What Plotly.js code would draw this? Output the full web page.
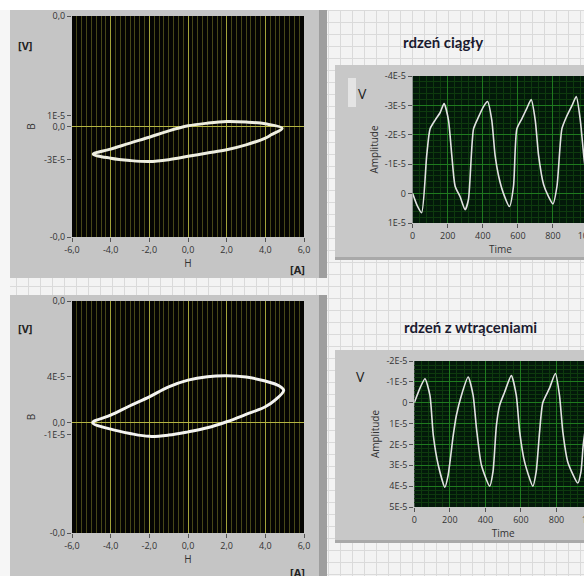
<!DOCTYPE html>
<html><head><meta charset="utf-8">
<script src="https://cdn.plot.ly/plotly-3.0.1.min.js"></script>
<style>
html,body{margin:0;padding:0;width:584px;height:576px;overflow:hidden;
background-color:#f3f3f3;
background-image:linear-gradient(#dadada 1px,transparent 1px),linear-gradient(90deg,#dadada 1px,transparent 1px);
background-size:12px 12px;background-position:4px 10px;}
#chart{width:620px;height:576px;}
</style></head><body><div id="chart"></div>
<script>
// ---------- DATA ----------
const hTickVals = [-6,-4,-2,0,2,4,6];
const hTickText = ['-6,0','-4,0','-2,0','0,0','2,0','4,0','6,0'];

// Hysteresis loop - continuous core (rdzeń ciągły)
const loopContH = [-4.9,-4,-3,-2,-1,0,1,2,3,4,4.87,4.3,4,3,2,1,0,-1,-2,-3,-4,-4.9];
const loopContB = [-2.5e-5,-2.05e-5,-1.5e-5,-0.97e-5,-0.4e-5,0.06e-5,0.3e-5,0.45e-5,0.4e-5,0.24e-5,-0.15e-5,
                   -0.75e-5,-1.05e-5,-1.66e-5,-2.1e-5,-2.4e-5,-2.7e-5,-3.0e-5,-3.17e-5,-3.08e-5,-2.87e-5,-2.5e-5];
const bContTickVals = [-1e-4,-3e-5,0,1e-5,1e-4];
const bContTickText = ['-0,0','-3E-5','0,0','1E-5','0,0'];

// Hysteresis loop - core with inclusions (rdzeń z wtrąceniami)
const loopInclH = [-4.93,-4,-3,-2,-1,0,1,2,3,4,4.7,4.95,4.5,4,3,2,1,0,-1,-2,-3,-4,-4.93];
const loopInclB = [0,0.66e-5,1.47e-5,2.24e-5,3.1e-5,3.68e-5,3.97e-5,4.05e-5,3.94e-5,3.6e-5,3.2e-5,2.8e-5,
                   1.95e-5,1.38e-5,0.72e-5,0.09e-5,-0.43e-5,-0.78e-5,-1.06e-5,-1.17e-5,-0.92e-5,-0.55e-5,0];
const bInclTickVals = [-0.95e-4,-1e-5,0,4e-5,1.05e-4];
const bInclTickText = ['-0,0','-1E-5','0,0','4E-5','0,0'];

// Waveform - continuous core
const timeCont = [0,25,51,80,99,128,156,179,204,223,242,270,299,318,347,375,404,427,451,470,490,518,552,575,594,623,651,676,699,718,747,775,800,823,851,880,909,933,956,979,995];
const ampCont  = [0,0.4e-5,0.65e-5,-1.3e-5,-2.2e-5,-2.5e-5,-2.75e-5,-3.06e-5,-2.5e-5,-1.3e-5,-0.25e-5,0.1e-5,0.55e-5,0.2e-5,
                  -2.2e-5,-2.6e-5,-2.96e-5,-3.13e-5,-2.5e-5,-1.3e-5,-0.6e-5,0,0.44e-5,-0.25e-5,-2.2e-5,-2.55e-5,-2.9e-5,-3.2e-5,
                  -2.5e-5,-1.3e-5,-0.3e-5,0.1e-5,0.35e-5,-0.25e-5,-2.2e-5,-2.65e-5,-3.0e-5,-3.3e-5,-2.5e-5,-1.1e-5,-0.5e-5];
const ampContTickVals = [-4e-5,-3e-5,-2e-5,-1e-5,0,1e-5];
const ampContTickText = ['-4E-5','-3E-5','-2E-5','-1E-5','0','1E-5'];

// Waveform - core with inclusions
const timeIncl = [0,32,60,88,107,135,172,190,219,237,265,303,331,350,378,424,443,462,480,508,546,574,593,621,667,686,705,723,761,794,817,836,864,920,938,951,975];
const ampIncl  = [0,-0.7e-5,-1.15e-5,-0.35e-5,1.57e-5,3.0e-5,4.05e-5,3.5e-5,1.57e-5,0.6e-5,-0.35e-5,-1.23e-5,-0.35e-5,1.24e-5,
                  3.0e-5,4.0e-5,3.3e-5,1.1e-5,0.13e-5,-0.5e-5,-1.3e-5,-0.35e-5,1.4e-5,2.85e-5,4.0e-5,3.3e-5,1.4e-5,0,
                  -0.7e-5,-1.4e-5,-0.35e-5,1.4e-5,2.85e-5,3.85e-5,3.3e-5,2.0e-5,0.5e-5];
const ampInclTickVals = [-2e-5,-1e-5,0,1e-5,2e-5,3e-5,4e-5,5e-5];
const ampInclTickText = ['-2E-5','-1E-5','0','1E-5','2E-5','3E-5','4E-5','5E-5'];

const titleCont = 'rdzeń ciągły';
const titleIncl = 'rdzeń z wtrąceniami';

// ---------- LAYOUT HELPERS ----------
const W = 620, HT = 576;
const fx = p => p / W;
const fy = p => 1 - p / HT;
const FONT = 'Open Sans, Liberation Sans, sans-serif';
const tickFont = {family: FONT, size: 9, color: '#333'};
const titleFont = {family: FONT, size: 10, color: '#333'};

const traces = [
  {x: loopContH, y: loopContB, xaxis: 'x', yaxis: 'y', mode: 'lines',
   line: {color: '#eeeee0', width: 3, shape: 'spline', smoothing: 1}},
  {x: loopInclH, y: loopInclB, xaxis: 'x2', yaxis: 'y2', mode: 'lines',
   line: {color: '#f4f4f0', width: 3, shape: 'spline', smoothing: 1}},
  {x: timeCont, y: ampCont, xaxis: 'x3', yaxis: 'y3', mode: 'lines',
   line: {color: '#e2e2e2', width: 1.6, shape: 'spline', smoothing: 0.6}},
  {x: timeIncl, y: ampIncl, xaxis: 'x4', yaxis: 'y4', mode: 'lines',
   line: {color: '#e2e2e2', width: 1.6, shape: 'spline', smoothing: 0.6}}
];

function hAxis(domainY, anchor) {
  return {domain: [fx(72), fx(304)], anchor: anchor, range: [-6, 6],
    tickmode: 'array', tickvals: hTickVals, ticktext: hTickText,
    showgrid: true, gridcolor: '#a3a33a', gridwidth: 1,
    minor: {dtick: 0.25, tick0: 0, showgrid: true, gridcolor: '#474718', gridwidth: 1},
    zeroline: false, showline: false, ticks: 'outside', ticklen: 4, tickcolor: '#555',
    tickfont: tickFont, title: {text: 'H', font: titleFont, standoff: 2}, fixedrange: true};
}
function bAxis(dom, anchor, range, tv, tt) {
  return {domain: dom, anchor: anchor, range: range, tickmode: 'array', tickvals: tv, ticktext: tt,
    showgrid: false, zeroline: true, zerolinecolor: '#b5b542', zerolinewidth: 1,
    ticks: 'outside', ticklen: 4, tickcolor: '#555', tickfont: tickFont,
    title: {text: 'B', font: titleFont, standoff: 6}, fixedrange: true};
}
function tAxis(dom, anchor) {
  return {domain: dom, anchor: anchor, range: [0, 1000], dtick: 200, tick0: 0,
    showgrid: true, gridcolor: '#1f7a1f', gridwidth: 1,
    minor: {dtick: 40, showgrid: true, gridcolor: '#0e3a0e', gridwidth: 1},
    zeroline: false, ticks: 'outside', ticklen: 4, tickcolor: '#555', tickfont: tickFont,
    title: {text: 'Time', font: titleFont, standoff: 1}, fixedrange: true};
}
function aAxis(dom, anchor, range, tv, tt) {
  return {domain: dom, anchor: anchor, range: range, tickmode: 'array', tickvals: tv, ticktext: tt,
    showgrid: true, gridcolor: '#1f7a1f', gridwidth: 1,
    minor: {dtick: 2e-6, tick0: 0, showgrid: true, gridcolor: '#0e3a0e', gridwidth: 1},
    zeroline: false, ticks: 'outside', ticklen: 4, tickcolor: '#555', tickfont: tickFont,
    title: {text: 'Amplitude', font: titleFont, standoff: 4}, fixedrange: true};
}

function rect(x0, y0, x1, y1, fill) {
  return {type: 'rect', xref: 'paper', yref: 'paper', x0: fx(x0), x1: fx(x1), y0: fy(y1), y1: fy(y0),
          fillcolor: fill, line: {width: 0}, layer: 'below'};
}
const shapes = [
  rect(0, 0, 640, 10, '#ffffff'),
  rect(0, 10, 10, 600, '#f6f6f6'),
  // left panels
  rect(10, 10, 327, 278, '#c5c5c5'),
  rect(319, 10, 327, 278, '#9e9e9e'),
  rect(10, 295, 327, 600, '#c5c5c5'),
  rect(319, 295, 327, 600, '#9e9e9e'),
  // right panels
  rect(335, 65, 640, 260, '#c8c8c8'),
  rect(335, 257, 640, 260, '#a9a9a9'),
  rect(335, 350, 640, 543, '#c8c8c8'),
  rect(335, 540, 640, 543, '#a9a9a9'),
  rect(348, 78, 356, 107, '#e4e4e4'),
  // plot areas
  rect(72, 16, 304, 237, '#050503'),
  rect(72, 301, 304, 533, '#050503'),
  rect(412.7, 76, 640, 223, '#03190a'),
  rect(414.3, 361, 640, 507, '#03190a')
];

function ann(text, x, y, size, bold, color) {
  return {text: bold ? '<b>' + text + '</b>' : text, xref: 'paper', yref: 'paper', x: fx(x), y: fy(y),
          xanchor: 'center', yanchor: 'middle', showarrow: false,
          font: {family: FONT, size: size, color: color || '#222'}};
}
const annotations = [
  ann('[V]', 25, 45, 11, true),
  ann('[A]', 297, 269, 11, true),
  ann('[V]', 25, 328, 11, true),
  ann('[A]', 297, 572, 11, true),
  ann('V', 362, 93, 14, false),
  ann('V', 360, 376, 14, false),
  {text: '<b>' + titleCont + '</b>', xref: 'paper', yref: 'paper', x: fx(443), y: fy(42), xanchor: 'center', yanchor: 'middle',
   showarrow: false, font: {family: 'Lato, Open Sans, sans-serif', size: 15, color: '#1b1b30'}},
  {text: '<b>' + titleIncl + '</b>', xref: 'paper', yref: 'paper', x: fx(470), y: fy(327), xanchor: 'center', yanchor: 'middle',
   showarrow: false, font: {family: 'Lato, Open Sans, sans-serif', size: 15, color: '#1b1b30'}}
];

const layout = {
  width: W, height: HT, margin: {l: 0, r: 0, t: 0, b: 0},
  paper_bgcolor: 'rgba(0,0,0,0)', plot_bgcolor: 'rgba(0,0,0,0)',
  showlegend: false,
  xaxis: hAxis(null, 'y'),
  yaxis: bAxis([fy(237), fy(16)], 'x', [-1e-4, 1e-4], bContTickVals, bContTickText),
  xaxis2: hAxis(null, 'y2'),
  yaxis2: bAxis([fy(533), fy(301)], 'x2', [-0.95e-4, 1.05e-4], bInclTickVals, bInclTickText),
  xaxis3: tAxis([fx(412.7), fx(588)], 'y3'),
  yaxis3: aAxis([fy(223), fy(76)], 'x3', [1e-5, -4e-5], ampContTickVals, ampContTickText),
  xaxis4: tAxis([fx(414.3), fx(592)], 'y4'),
  yaxis4: aAxis([fy(507), fy(361)], 'x4', [5e-5, -2e-5], ampInclTickVals, ampInclTickText),
  shapes: shapes, annotations: annotations
};
Plotly.newPlot('chart', traces, layout, {displayModeBar: false, staticPlot: true});
</script></body></html>
